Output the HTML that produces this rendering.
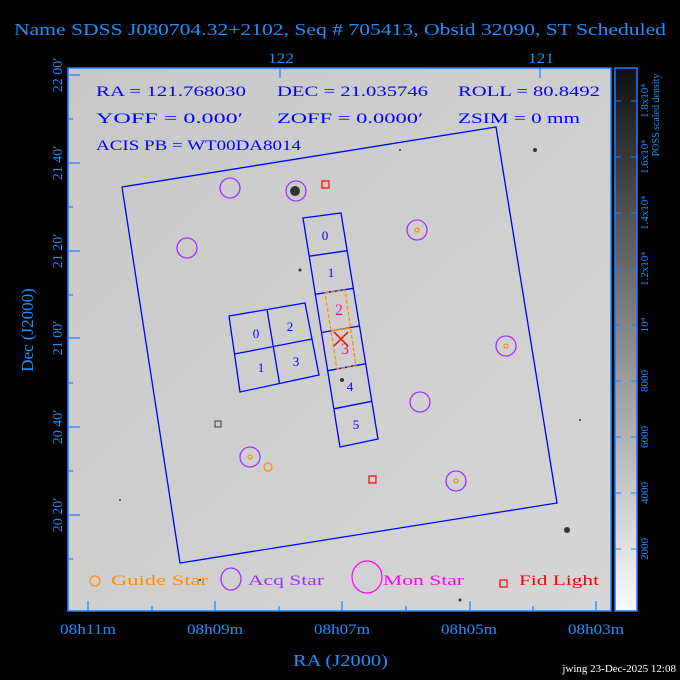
<!DOCTYPE html>
<html><head><meta charset="utf-8"><style>
body{margin:0;background:#000;width:680px;height:680px;overflow:hidden}
svg{display:block}
text{font-family:"Liberation Serif",serif}
</style></head><body>
<svg width="680" height="680" viewBox="0 0 680 680" xmlns="http://www.w3.org/2000/svg">
<defs>
<linearGradient id="cb" x1="0" y1="1" x2="0" y2="0">
<stop offset="0" stop-color="#fbfbfb"/><stop offset="0.5" stop-color="#8a8a8a"/><stop offset="1" stop-color="#101010"/>
</linearGradient>
<linearGradient id="bg" x1="0" y1="0" x2="1" y2="1">
<stop offset="0" stop-color="#c8c8c8"/><stop offset="1" stop-color="#d6d6d6"/>
</linearGradient>
</defs>
<text x="14" y="35" fill="#1e90ff" font-size="17" textLength="652" lengthAdjust="spacingAndGlyphs">Name SDSS J080704.32+2102, Seq # 705413, Obsid 32090, ST Scheduled</text>
<rect x="68" y="68" width="543" height="543" fill="url(#bg)" stroke="#1e7fff" stroke-width="1.5"/>
<g fill="#333">
<circle cx="295" cy="191" r="5" fill="#333"/><circle cx="535" cy="150" r="2"/><circle cx="567" cy="530" r="3"/><circle cx="342" cy="380" r="2"/><circle cx="300" cy="270" r="1.5"/><circle cx="460" cy="600" r="1.5"/><circle cx="120" cy="500" r="1"/><circle cx="400" cy="150" r="1"/><circle cx="200" cy="580" r="1"/><circle cx="580" cy="420" r="1"/>
</g>
<g stroke="#1e7fff" stroke-width="1.2">
<line x1="280" y1="68" x2="280" y2="78"/><line x1="540" y1="68" x2="540" y2="78"/>
<line x1="88" y1="611" x2="88" y2="601"/><line x1="215" y1="611" x2="215" y2="601"/><line x1="342" y1="611" x2="342" y2="601"/><line x1="470" y1="611" x2="470" y2="601"/><line x1="596" y1="611" x2="596" y2="601"/>
<line x1="152" y1="611" x2="152" y2="606"/><line x1="279" y1="611" x2="279" y2="606"/><line x1="406" y1="611" x2="406" y2="606"/><line x1="533" y1="611" x2="533" y2="606"/>
<line x1="68" y1="75" x2="80" y2="75"/><line x1="68" y1="163" x2="80" y2="163"/><line x1="68" y1="251" x2="80" y2="251"/><line x1="68" y1="338" x2="80" y2="338"/><line x1="68" y1="427" x2="80" y2="427"/><line x1="68" y1="515" x2="80" y2="515"/>
<line x1="68" y1="119" x2="73" y2="119"/><line x1="68" y1="207" x2="73" y2="207"/><line x1="68" y1="295" x2="73" y2="295"/><line x1="68" y1="383" x2="73" y2="383"/><line x1="68" y1="471" x2="73" y2="471"/><line x1="68" y1="559" x2="73" y2="559"/>
</g>
<g fill="#1e90ff" font-size="15">
<text x="268" y="63" textLength="26" lengthAdjust="spacingAndGlyphs">122</text><text x="528" y="63" textLength="26" lengthAdjust="spacingAndGlyphs">121</text>
<text x="60" y="634" textLength="56" lengthAdjust="spacingAndGlyphs">08h11m</text>
<text x="187" y="634" textLength="56" lengthAdjust="spacingAndGlyphs">08h09m</text>
<text x="314" y="634" textLength="56" lengthAdjust="spacingAndGlyphs">08h07m</text>
<text x="441" y="634" textLength="56" lengthAdjust="spacingAndGlyphs">08h05m</text>
<text x="568" y="634" textLength="56" lengthAdjust="spacingAndGlyphs">08h03m</text>
<text x="293" y="666" font-size="17" textLength="95" lengthAdjust="spacingAndGlyphs">RA (J2000)</text>
</g>
<g fill="#1e90ff" font-size="14" text-anchor="middle">
<text transform="translate(62,75) rotate(-90)">22 00′</text>
<text transform="translate(62,163) rotate(-90)">21 40′</text>
<text transform="translate(62,251) rotate(-90)">21 20′</text>
<text transform="translate(62,338) rotate(-90)">21 00′</text>
<text transform="translate(62,427) rotate(-90)">20 40′</text>
<text transform="translate(62,515) rotate(-90)">20 20′</text>
<text transform="translate(33,330) rotate(-90)" font-size="17">Dec (J2000)</text>
</g>
<text x="676" y="672" fill="#fff" font-size="11" text-anchor="end" font-family="Liberation Sans">jwing 23-Dec-2025 12:08</text>
<rect x="615" y="68" width="22" height="543" fill="url(#cb)" stroke="#1e7fff" stroke-width="1.5"/>
<g stroke="#1e7fff" stroke-width="1">
<line x1="615" y1="101" x2="621" y2="101"/><line x1="631" y1="101" x2="637" y2="101"/>
<line x1="615" y1="157" x2="621" y2="157"/><line x1="631" y1="157" x2="637" y2="157"/>
<line x1="615" y1="213" x2="621" y2="213"/><line x1="631" y1="213" x2="637" y2="213"/>
<line x1="615" y1="269" x2="621" y2="269"/><line x1="631" y1="269" x2="637" y2="269"/>
<line x1="615" y1="325" x2="621" y2="325"/><line x1="631" y1="325" x2="637" y2="325"/>
<line x1="615" y1="381" x2="621" y2="381"/><line x1="631" y1="381" x2="637" y2="381"/>
<line x1="615" y1="437" x2="621" y2="437"/><line x1="631" y1="437" x2="637" y2="437"/>
<line x1="615" y1="493" x2="621" y2="493"/><line x1="631" y1="493" x2="637" y2="493"/>
<line x1="615" y1="549" x2="621" y2="549"/><line x1="631" y1="549" x2="637" y2="549"/>
</g>
<g fill="#1e90ff" font-size="11" text-anchor="middle">
<text transform="translate(648,101) rotate(-90)">1.8x10⁴</text>
<text transform="translate(648,157) rotate(-90)">1.6x10⁴</text>
<text transform="translate(648,213) rotate(-90)">1.4x10⁴</text>
<text transform="translate(648,269) rotate(-90)">1.2x10⁴</text>
<text transform="translate(648,325) rotate(-90)">10⁴</text>
<text transform="translate(648,381) rotate(-90)">8000</text>
<text transform="translate(648,437) rotate(-90)">6000</text>
<text transform="translate(648,493) rotate(-90)">4000</text>
<text transform="translate(648,549) rotate(-90)">2000</text>
<text transform="translate(659,115) rotate(-90)" font-size="10">POSS scaled density</text>
</g>
<g fill="#0000ff" font-size="15">
<text x="96" y="96" textLength="150" lengthAdjust="spacingAndGlyphs">RA = 121.768030</text>
<text x="277" y="96" textLength="151" lengthAdjust="spacingAndGlyphs">DEC = 21.035746</text>
<text x="458" y="96" textLength="142" lengthAdjust="spacingAndGlyphs">ROLL = 80.8492</text>
<text x="96" y="123" textLength="147" lengthAdjust="spacingAndGlyphs">YOFF =   0.000′</text>
<text x="277" y="123" textLength="146" lengthAdjust="spacingAndGlyphs">ZOFF =  0.0000′</text>
<text x="458" y="123" textLength="122" lengthAdjust="spacingAndGlyphs">ZSIM = 0 mm</text>
<text x="96" y="150" textLength="205" lengthAdjust="spacingAndGlyphs">ACIS PB = WT00DA8014</text>
</g>
<g fill="none" stroke="#0000ff" stroke-width="1.3">
<polygon points="122,187 496,127 557,503 180,563"/>
<polygon points="303,218 341,213 378,439 340,447"/>
<line x1="309.2" y1="256.2" x2="347.2" y2="250.7"/><line x1="315.3" y1="294.3" x2="353.3" y2="288.3"/><line x1="321.5" y1="332.5" x2="359.5" y2="326"/><line x1="327.7" y1="370.7" x2="365.7" y2="363.7"/><line x1="333.8" y1="408.8" x2="371.8" y2="401.3"/>
<polygon points="229,316 305,303 319,375 240,392"/>
<line x1="267" y1="309.5" x2="279.5" y2="383.5"/><line x1="234.5" y1="354" x2="312" y2="339"/>
</g>
<g fill="#0000ff" font-size="13" text-anchor="middle">
<text x="325" y="240">0</text><text x="331" y="277">1</text><text x="350" y="391">4</text><text x="356" y="429">5</text>
<text x="256" y="338">0</text><text x="290" y="331">2</text><text x="261" y="372">1</text><text x="296" y="366">3</text>
</g>
<g fill="#ff1493" font-size="16" text-anchor="middle"><text x="339" y="315">2</text><text x="345" y="354">3</text></g>
<polygon points="325,293 345,290 356,366 337,369" fill="none" stroke="#ff8c00" stroke-width="1.2" stroke-dasharray="4,2"/>
<line x1="331" y1="331" x2="350" y2="328" stroke="#ff8c00" stroke-width="1.2"/>
<g stroke="#ff0000" stroke-width="1.5"><line x1="334" y1="332" x2="348" y2="346"/><line x1="348" y1="332" x2="334" y2="346"/></g>
<g fill="none" stroke="#9b30ff" stroke-width="1.3">
<circle cx="230" cy="188" r="10"/><circle cx="187" cy="248" r="10"/><circle cx="296" cy="191" r="10"/><circle cx="417" cy="230" r="10"/><circle cx="506" cy="346" r="10"/><circle cx="420" cy="402" r="10"/><circle cx="250" cy="457" r="10"/><circle cx="456" cy="481" r="10"/>
<ellipse cx="231" cy="579" rx="10" ry="11"/>
</g>
<g fill="none" stroke="#ff8c00" stroke-width="1.2">
<circle cx="417" cy="230" r="2"/><circle cx="506" cy="346" r="2"/><circle cx="250" cy="457" r="2"/><circle cx="456" cy="481" r="2"/><circle cx="268" cy="467" r="4"/><circle cx="95" cy="581" r="5"/>
</g>
<g fill="none" stroke="#ff0000" stroke-width="1.2">
<rect x="322" y="181" width="7" height="7"/><rect x="369" y="476" width="7" height="7"/><rect x="500" y="580" width="7" height="7"/>
</g>
<rect x="215" y="421" width="6" height="6" fill="none" stroke="#333"/>
<ellipse cx="367" cy="577" rx="15" ry="16" fill="none" stroke="#ff00ff" stroke-width="1.2"/>
<g font-size="15">
<text x="111" y="585" fill="#ff8c00" textLength="97" lengthAdjust="spacingAndGlyphs">Guide Star</text>
<text x="248" y="585" fill="#9b30ff" textLength="76" lengthAdjust="spacingAndGlyphs">Acq Star</text>
<text x="383" y="585" fill="#ff00ff" textLength="81" lengthAdjust="spacingAndGlyphs">Mon Star</text>
<text x="519" y="585" fill="#ff0000" textLength="80" lengthAdjust="spacingAndGlyphs">Fid Light</text>
</g>
</svg>
</body></html>
